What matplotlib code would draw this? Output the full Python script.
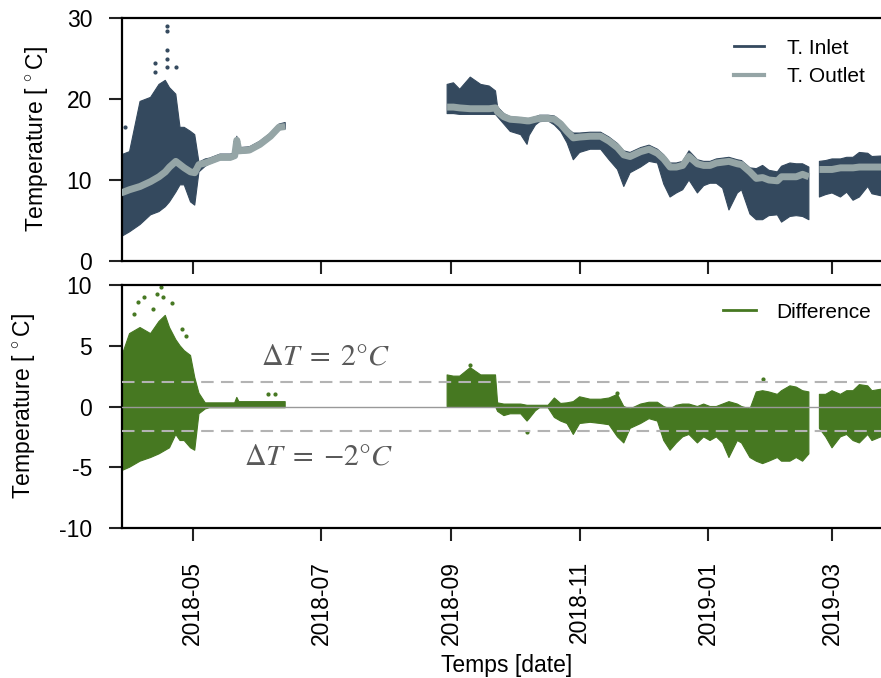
import numpy as np
import pandas as pd
import matplotlib
matplotlib.use('Agg')
import matplotlib.pyplot as plt
import matplotlib.dates as mdates
from matplotlib.lines import Line2D

plt.rcParams['font.family'] = ['Liberation Sans', 'DejaVu Sans']
plt.rcParams['axes.unicode_minus'] = False
plt.rcParams['mathtext.fontset'] = 'custom'
plt.rcParams['mathtext.rm'] = 'Liberation Sans'

nan = np.nan

# sample dates (NaN rows mark the gaps in the record)
dates = ['2018-03-28', '2018-04-01', '2018-04-06', '2018-04-11', '2018-04-15', '2018-04-18',
         '2018-04-20', '2018-04-23', '2018-04-25', '2018-04-27', '2018-04-30', '2018-05-02',
         '2018-05-04', '2018-05-07', '2018-05-09', '2018-05-14', '2018-05-19', '2018-05-21',
         '2018-05-22', '2018-05-23', '2018-05-28', '2018-06-02', '2018-06-07', '2018-06-11',
         '2018-06-14', '2018-06-15',
         '2018-08-30', '2018-09-02', '2018-09-05', '2018-09-10', '2018-09-15', '2018-09-19',
         '2018-09-22', '2018-09-23', '2018-09-26', '2018-09-29', '2018-10-04', '2018-10-07',
         '2018-10-08', '2018-10-11', '2018-10-13', '2018-10-17', '2018-10-20', '2018-10-23',
         '2018-10-26', '2018-10-29', '2018-11-01', '2018-11-06', '2018-11-11', '2018-11-15',
         '2018-11-19', '2018-11-22', '2018-11-25', '2018-11-30', '2018-12-04', '2018-12-08',
         '2018-12-11', '2018-12-14', '2018-12-17', '2018-12-20', '2018-12-23', '2018-12-27',
         '2018-12-30', '2019-01-02', '2019-01-05', '2019-01-08', '2019-01-11', '2019-01-15',
         '2019-01-17', '2019-01-21', '2019-01-24', '2019-01-27', '2019-01-30', '2019-02-03',
         '2019-02-05', '2019-02-09', '2019-02-12', '2019-02-15', '2019-02-18', '2019-02-20',
         '2019-02-23', '2019-02-26', '2019-03-01', '2019-03-05', '2019-03-08', '2019-03-11',
         '2019-03-14', '2019-03-18', '2019-03-20', '2019-03-27']

outlet = [8.4, 8.8, 9.2, 9.8, 10.4, 11.0, 11.6, 12.3, 11.9, 11.5, 11.0, 10.9, 11.9, 12.1, 12.3,
          12.8, 12.8, 13.0, 14.9, 13.6, 13.7, 14.4, 15.4, 16.5, 16.6, nan,
          19.0, 19.0, 18.9, 18.8, 18.8, 18.8, 18.9, 18.4, 17.8, 17.5,
          17.4, 17.3, 17.3, 17.5, 17.6, 17.6, 17.5, 16.9, 16.0, 15.2,
          15.3, 15.4, 15.4, 14.8, 14.0, 13.1, 12.9, 13.5, 13.8, 13.3,
          12.6, 11.6, 11.6, 11.8, 12.9, 12.0, 11.8, 11.8, 12.1, 12.2,
          12.3, 12.0, 11.9, 11.0, 10.2, 10.3, 10.0, 9.9, 10.4, 10.4,
          10.4, 10.7, 10.4, nan,
          11.3, 11.3, 11.3, 11.5, 11.5, 11.5, 11.6, 11.6, 11.6, 11.6]

inlet_high = [13.1, 13.5, 19.7, 20.2, 21.8, 22.3, 21.4, 20.6, 16.5, 16.5, 16.0, 15.6, 12.2, 12.6,
              12.7, 13.2, 13.2, 13.4, 15.4, 14.0, 14.1, 14.8, 15.8, 16.9, 17.1, nan,
              21.8, 22.0, 21.2, 22.7, 21.8, 21.6, 21.0, 19.0, 18.2, 17.8,
              17.7, 17.6, 17.6, 17.8, 18.0, 18.0, 17.9, 17.3, 16.4, 15.8,
              15.8, 15.9, 15.9, 15.3, 14.5, 13.6, 13.4, 14.0, 14.3, 13.8,
              13.1, 12.1, 12.1, 12.3, 13.6, 12.5, 12.3, 12.3, 12.6, 12.7,
              12.8, 12.5, 12.4, 11.5, 11.4, 11.8, 11.2, 11.0, 11.7, 12.1,
              12.0, 12.0, 11.6, nan,
              12.3, 12.4, 12.6, 12.6, 12.8, 12.8, 13.4, 13.3, 12.9, 13.0]

inlet_low = [3.0, 3.6, 4.5, 5.7, 6.1, 6.7, 7.3, 8.5, 9.4, 9.4, 7.3, 6.9, 11.0, 11.7, 12.0, 12.5,
             12.5, 12.7, 14.5, 13.3, 13.4, 14.1, 15.1, 16.2, 16.3, nan,
             18.2, 18.2, 18.1, 18.1, 18.1, 18.1, 18.1, 17.8, 16.9, 16.0,
             15.6, 14.4, 15.5, 16.8, 17.2, 17.3, 16.8, 16.0, 14.6, 12.5,
             13.4, 13.8, 13.8, 12.5, 11.3, 9.2, 10.9, 11.6, 12.3, 12.1,
             9.5, 7.9, 8.4, 8.8, 10.0, 8.4, 9.3, 9.6, 9.6, 9.0,
             6.3, 8.4, 8.8, 5.8, 5.1, 5.1, 5.6, 5.7, 4.8, 5.5,
             5.6, 5.5, 5.1, nan,
             7.9, 8.2, 8.4, 7.9, 8.5, 7.5, 7.9, 9.2, 8.3, 7.9]

diff_high = [4.0, 6.0, 6.5, 6.0, 7.0, 7.5, 6.5, 5.5, 5.0, 4.6, 4.2, 2.4, 1.1, 0.3, 0.3, 0.3, 0.3,
             0.3, 0.75, 0.4, 0.4, 0.4, 0.4, 0.4, 0.4, nan,
             2.6, 2.5, 2.5, 3.2, 2.6, 2.6, 2.6, 0.3, 0.2, 0.2,
             0.2, 0.1, 0.1, 0.1, 0.1, 0.1, 0.7, 0.25, 0.3, 0.4,
             0.8, 0.6, 0.6, 0.7, 1.0, 0.0, -0.2, 0.2, 0.35, 0.35,
             0.0, -0.2, 0.1, 0.2, 0.2, 0.0, 0.2, 0.0, 0.0, 0.2,
             0.4, 0.2, 0.0, -0.2, 1.2, 1.3, 1.2, 1.0, 1.3, 1.7,
             1.6, 1.3, 1.2, nan,
             1.0, 1.0, 1.3, 1.0, 1.3, 1.3, 1.8, 1.7, 1.3, 1.5]

diff_low = [-5.3, -5.0, -4.5, -4.2, -3.9, -3.6, -3.4, -2.3, -2.8, -2.8, -3.4, -3.6, -0.6, -0.2,
            -0.1, -0.1, -0.1, -0.1, -0.1, -0.1, -0.1, -0.1, -0.1, -0.1, -0.1, nan,
            0.0, 0.0, 0.0, 0.0, 0.0, 0.0, 0.0, -0.4, -0.75, -0.6,
            -0.6, -1.2, -1.0, -0.35, -0.1, -0.1, -0.9, -1.2, -1.4, -2.3,
            -1.4, -1.3, -1.4, -1.5, -2.5, -3.0, -1.8, -1.4, -1.0, -1.2,
            -2.8, -3.6, -3.0, -2.5, -2.3, -3.0, -2.5, -2.8, -2.5, -3.0,
            -4.2, -2.8, -3.0, -4.2, -4.5, -4.7, -4.5, -4.2, -4.5, -4.5,
            -4.2, -4.5, -3.9, nan,
            -1.8, -2.5, -3.4, -2.5, -2.3, -2.8, -3.0, -2.3, -2.8, -2.3]

# isolated readings outside the dense band
inlet_pts_dates = ['2018-03-30', '2018-04-13', '2018-04-13', '2018-04-19', '2018-04-19',
                   '2018-04-19', '2018-04-19', '2018-04-19', '2018-04-23']
inlet_pts_vals = [16.5, 24.5, 23.3, 29.0, 28.4, 26.1, 24.9, 23.9, 23.9]

diff_pts_dates = ['2018-04-03', '2018-04-05', '2018-04-08', '2018-04-12', '2018-04-14',
                  '2018-04-16', '2018-04-17', '2018-04-21', '2018-04-26', '2018-04-28',
                  '2018-06-06', '2018-06-09', '2018-09-10', '2018-10-07', '2018-11-19',
                  '2019-01-27']
diff_pts_vals = [7.6, 8.6, 9.0, 8.0, 9.3, 9.8, 9.0, 8.5, 6.4, 5.8, 1.0, 1.0, 3.4, -2.1, 1.1, 2.3]

c_inlet = '#34495e'
c_outlet = '#95a5a6'
c_diff = '#467821'

t = pd.to_datetime(dates)

fig = plt.figure(figsize=(8.81, 6.78), dpi=100)
ax1 = fig.add_axes([122 / 881, 1 - 261 / 678, (886 - 122) / 881, (261 - 18) / 678])
ax2 = fig.add_axes([122 / 881, 1 - 528 / 678, (886 - 122) / 881, (528 - 285) / 678], sharex=ax1)

# top: inlet / outlet temperature
ax1.fill_between(t, inlet_low, inlet_high, color=c_inlet, lw=0.8, zorder=2)
ax1.plot(pd.to_datetime(inlet_pts_dates), inlet_pts_vals, 'o', ms=2, color=c_inlet, zorder=2)
ax1.plot(t, outlet, color=c_outlet, lw=5, solid_capstyle='butt', zorder=3)
ax1.set_ylim(0, 30)
ax1.set_yticks([0, 10, 20, 30])
ax1.set_ylabel('Temperature [$\\,^\\circ$C]', fontsize=16.5)
ax1.yaxis.set_label_coords(-0.094, 0.5)
handles = [Line2D([], [], color=c_inlet, lw=2), Line2D([], [], color=c_outlet, lw=3)]
ax1.legend(handles, ['T. Inlet', 'T. Outlet'], loc='upper right', frameon=False, fontsize=15,
           handlelength=1.45, handletextpad=1.1, labelspacing=0.45,
           bbox_to_anchor=(884 / 881, 1 - 20 / 678), bbox_transform=fig.transFigure)

# bottom: difference
ax2.fill_between(t, diff_low, diff_high, color=c_diff, lw=0.8, zorder=2)
ax2.plot(pd.to_datetime(diff_pts_dates), diff_pts_vals, 'o', ms=2, color=c_diff, zorder=2)
ax2.axhline(0, color='#999999', lw=1, zorder=3)
ax2.axhline(2, color='#b3b3b3', lw=1.5, ls=(0, (6, 3.5)), zorder=3)
ax2.axhline(-2, color='#b3b3b3', lw=1.5, ls=(0, (6, 3.5)), zorder=3)
ax2.text(pd.Timestamp('2018-07-03'), 4.1, r'$\Delta T\;=\;2\degree C$', fontsize=21.5,
         color='#595959', ha='center', va='center', math_fontfamily='stix')
ax2.text(pd.Timestamp('2018-06-30'), -4.1, r'$\Delta T\;=\;{-2}\degree C$', fontsize=21.5,
         color='#595959', ha='center', va='center', math_fontfamily='stix')
ax2.set_ylim(-10, 10)
ax2.set_yticks([-10, -5, 0, 5, 10])
ax2.set_ylabel('Temperature [$\\,^\\circ$C]', fontsize=16.5)
ax2.yaxis.set_label_coords(-0.111, 0.5)
ax2.set_xlabel('Temps [date]', fontsize=16.5)
ax2.xaxis.set_label_coords(0.503, -0.52)
ax2.legend([Line2D([], [], color=c_diff, lw=2)], ['Difference'], loc='upper right',
           frameon=False, fontsize=15, handlelength=1.55, handletextpad=1.0,
           bbox_to_anchor=(890 / 881, 1 - 284 / 678), bbox_transform=fig.transFigure)

ax2.xaxis.set_major_locator(mdates.MonthLocator(bymonth=[1, 3, 5, 7, 9, 11]))
ax2.xaxis.set_major_formatter(mdates.DateFormatter('%Y-%m'))
ax2.set_xlim(pd.Timestamp('2018-03-28 10:00'), pd.Timestamp('2019-03-26 16:00'))

for ax in (ax1, ax2):
    for s in ax.spines.values():
        s.set_linewidth(1.6)
        s.set_color('black')
    ax.tick_params(axis='both', direction='out', length=9.5, width=1.5, labelsize=16.5,
                   color='#222222')
    ax.tick_params(axis='y', pad=12)
    ax.tick_params(axis='x', pad=14)
ax1.tick_params(axis='x', labelbottom=False)
plt.setp(ax2.get_xticklabels(), rotation=90)

fig.savefig('out.png', dpi=100)
